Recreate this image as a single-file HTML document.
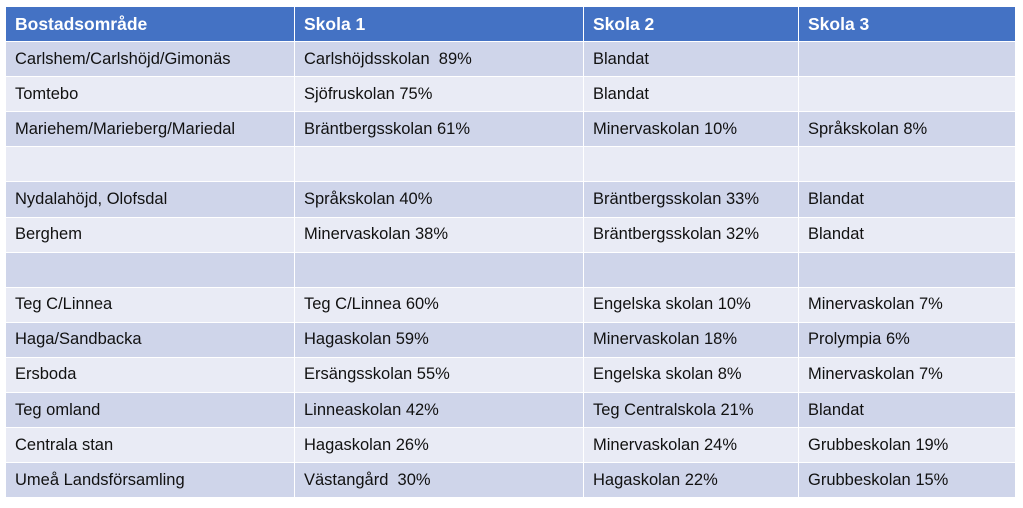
<!DOCTYPE html>
<html><head><meta charset="utf-8"><style>
html,body{margin:0;padding:0;background:#fff;width:1023px;height:508px;overflow:hidden}
table{position:absolute;left:5px;top:6px;border-collapse:collapse;width:1010px;table-layout:fixed;font-family:"Liberation Sans",sans-serif;font-size:16.5px;color:#111}
td,th{height:35.1px;padding:0 0 0 9px;border:1.5px solid #fff;text-align:left;white-space:nowrap;overflow:hidden;box-sizing:border-box}
th{background:#4472C4;color:#fff;font-weight:bold;font-size:17.5px}
tr.o td{background:#CFD5EA}
tr.e td{background:#E9EBF5}
</style></head><body>
<table>
<colgroup><col style="width:289px"><col style="width:289px"><col style="width:215px"><col style="width:217px"></colgroup>
<tr><th>Bostadsområde</th><th>Skola 1</th><th>Skola 2</th><th>Skola 3</th></tr>
<tr class="o"><td>Carlshem/Carlshöjd/Gimonäs</td><td>Carlshöjdsskolan&nbsp; 89%</td><td>Blandat</td><td></td></tr>
<tr class="e"><td>Tomtebo</td><td>Sjöfruskolan 75%</td><td>Blandat</td><td></td></tr>
<tr class="o"><td>Mariehem/Marieberg/Mariedal</td><td>Bräntbergsskolan 61%</td><td>Minervaskolan 10%</td><td>Språkskolan 8%</td></tr>
<tr class="e"><td></td><td></td><td></td><td></td></tr>
<tr class="o"><td>Nydalahöjd, Olofsdal</td><td>Språkskolan 40%</td><td>Bräntbergsskolan 33%</td><td>Blandat</td></tr>
<tr class="e"><td>Berghem</td><td>Minervaskolan 38%</td><td>Bräntbergsskolan 32%</td><td>Blandat</td></tr>
<tr class="o"><td></td><td></td><td></td><td></td></tr>
<tr class="e"><td>Teg C/Linnea</td><td>Teg C/Linnea 60%</td><td>Engelska skolan 10%</td><td>Minervaskolan 7%</td></tr>
<tr class="o"><td>Haga/Sandbacka</td><td>Hagaskolan 59%</td><td>Minervaskolan 18%</td><td>Prolympia 6%</td></tr>
<tr class="e"><td>Ersboda</td><td>Ersängsskolan 55%</td><td>Engelska skolan 8%</td><td>Minervaskolan 7%</td></tr>
<tr class="o"><td>Teg omland</td><td>Linneaskolan 42%</td><td>Teg Centralskola 21%</td><td>Blandat</td></tr>
<tr class="e"><td>Centrala stan</td><td>Hagaskolan 26%</td><td>Minervaskolan 24%</td><td>Grubbeskolan 19%</td></tr>
<tr class="o"><td>Umeå Landsförsamling</td><td>Västangård&nbsp; 30%</td><td>Hagaskolan 22%</td><td>Grubbeskolan 15%</td></tr>
</table>
</body></html>
